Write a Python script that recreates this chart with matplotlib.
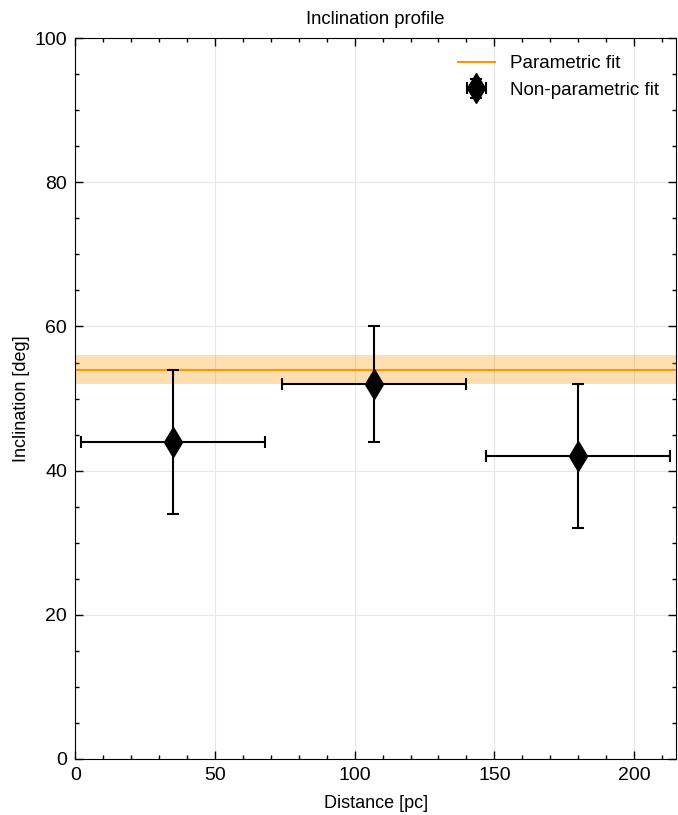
import numpy as np
import matplotlib.pyplot as plt

plt.rcParams['font.family'] = ['Liberation Sans', 'DejaVu Sans']

# binned (non-parametric) inclination estimates
distance = [35, 107, 180]
distance_err = [33, 33, 33]
incl = [44, 52, 42]
incl_err_lo = [10, 8, 10]
incl_err_hi = [10, 8, 10]

# parametric fit: constant inclination with 1-sigma band
fit_incl = 54
fit_lo = 52
fit_hi = 56
x_range = [0, 215]

fig, ax = plt.subplots(figsize=(6.78, 8.15), dpi=100)
fig.subplots_adjust(left=0.111, right=0.997, top=0.953, bottom=0.069)

ax.fill_between(x_range, fit_lo, fit_hi, color='#FF9500', alpha=0.3, lw=0)
ax.plot(x_range, [fit_incl, fit_incl], color='#FF9500', lw=1.5, label='Parametric fit')
ax.errorbar(distance, incl, xerr=distance_err, yerr=[incl_err_lo, incl_err_hi],
            fmt='d', color='k', ms=15, capsize=4, elinewidth=1.5, capthick=1.5,
            label='Non-parametric fit')

ax.set_xlim(x_range)
ax.set_ylim(0, 100)
ax.set_xticks([0, 50, 100, 150, 200])
ax.set_xticks(np.arange(0, 215, 10), minor=True)
ax.set_yticks([0, 20, 40, 60, 80, 100])
ax.set_yticks(np.arange(0, 101, 5), minor=True)
ax.tick_params(which='both', direction='in', top=True, right=True, labelsize=14, pad=6)
ax.tick_params(which='major', length=6, width=1)
ax.tick_params(which='minor', length=3, width=1)
ax.grid(True, which='major', color='#e6e6e6', lw=0.8)
ax.set_axisbelow(True)

ax.set_xlabel('Distance [pc]', fontsize=13, labelpad=8)
ax.set_ylabel('Inclination [deg]', fontsize=13, labelpad=3)
ax.set_title('Inclination profile', fontsize=13.3, pad=10)
ax.legend(loc='upper right', frameon=False, fontsize=13.5)

fig.savefig('out.png')
